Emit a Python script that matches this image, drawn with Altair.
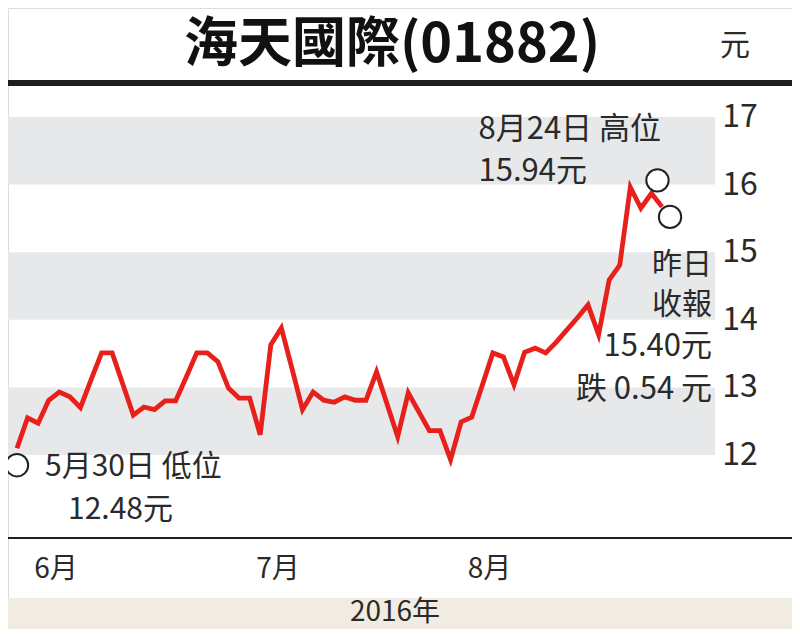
import altair as alt
import pandas as pd

# ---------------- data ----------------
holidays = ["2016-06-09", "2016-07-01"]
prices = [
    12.10, 12.55, 12.47, 12.81, 12.93, 12.86, 12.70, 13.11, 13.51, 13.51,
    13.05, 12.59, 12.71, 12.67, 12.80, 12.80, 13.15, 13.51, 13.51, 13.38,
    12.99, 12.84, 12.84, 12.30, 13.63, 13.88, 13.28, 12.67, 12.93, 12.81,
    12.78, 12.86, 12.81, 12.81, 13.23, 12.75, 12.27, 12.92, 12.64, 12.36,
    12.36, 11.93, 12.49, 12.56, 13.03, 13.51, 13.45, 13.04, 13.52, 13.58,
    13.51, 13.67, 13.85, 14.03, 14.22, 13.78, 14.59, 14.81, 15.96, 15.65,
    15.87, 15.67,
]
y_ticks = [12, 13, 14, 15, 16, 17]
bands = [(12, 13), (14, 15), (16, 17)]
month_names = {6: "6月", 7: "7月", 8: "8月"}
title_text = "海天國際(01882)"
unit_text = "元"
year_text = "2016年"

dates = [d for d in pd.bdate_range("2016-05-30", "2016-08-25")
         if d.strftime("%Y-%m-%d") not in holidays]
df = pd.DataFrame({"date": dates, "price": prices})
df["idx"] = range(len(df))

first = df.groupby(df["date"].dt.month)["idx"].min()
months_df = pd.DataFrame({"idx": [first[m] for m in month_names],
                          "label": list(month_names.values())})
ticks_df = pd.DataFrame({"v": y_ticks})
bands_df = pd.DataFrame({"lo": [b[0] for b in bands], "hi": [b[1] for b in bands]})

# ---------------- style ----------------
W, H = 784, 621
FONT = "Noto Sans CJK TC"
TXT = "#2a2a2a"
RED = "#e8201c"
BAND = "#e7e8ea"

xs = alt.Scale(domain=[-0.851, 73.29], nice=False, zero=False)
ys = alt.Scale(domain=[9.426, 18.612], nice=False, zero=False)
X = alt.X("idx:Q", scale=xs, axis=None)
Y = alt.Y("price:Q", scale=ys, axis=None)

band_layer = alt.Chart(bands_df).mark_rect(color=BAND).encode(
    x=alt.value(0), x2=alt.value(707),
    y=alt.Y("lo:Q", scale=ys, axis=None), y2="hi:Q")

tick_layer = alt.Chart(ticks_df).mark_text(
    font=FONT, fontSize=32, color=TXT, align="center", baseline="middle").encode(
    x=alt.value(732), y=alt.Y("v:Q", scale=ys, axis=None), text="v:Q")

line_layer = alt.Chart(df).mark_line(color=RED, strokeWidth=4.8).encode(x=X, y=Y)


def pt(i):
    return df.iloc[[i]][["idx", "price"]].reset_index(drop=True)


def circle(i, xo, yo):
    return alt.Chart(pt(i)).mark_point(
        shape="circle", size=500, fill="white", stroke="#222", strokeWidth=2,
        opacity=1, fillOpacity=1, xOffset=xo, yOffset=yo).encode(x=X, y=Y)


def note(i, text, dx, dy, align="left", size=30):
    d = pt(i)
    d["label"] = text
    return alt.Chart(d).mark_text(
        font=FONT, fontSize=size, color=TXT, align=align, baseline="middle",
        dx=dx, dy=dy).encode(x=X, y=Y, text="label:N")


last = len(df) - 1
hi_i = last - 1

notes = [
    note(0, "5月30日 低位", 28, 19, size=30),
    note(0, "12.48元", 51, 62, size=30),
    note(hi_i, "8月24日 高位", -173, -63, size=31),
    note(hi_i, "15.94元", -173, -21, size=31),
    note(last, "昨日", 50, 58, align="right", size=30),
    note(last, "收報", 50, 98, align="right", size=30),
    note(last, "15.40元", 50, 140, align="right", size=31),
    note(last, "跌 0.54 元", 50, 183, align="right", size=31),
]

circles = [circle(0, 0, 17), circle(hi_i, 6, -13), circle(last, 8, 10)]

month_layer = alt.Chart(months_df).mark_text(
    font=FONT, fontSize=28, color=TXT, align="left", baseline="middle", dx=-4).encode(
    x=X, y=alt.value(562), text="label:N")

top_rule = alt.Chart(pd.DataFrame({"a": [0]})).mark_rule(
    color="#1e1e1e", strokeWidth=6).encode(
    x=alt.value(0), x2=alt.value(W), y=alt.value(75))
bottom_rule = alt.Chart(pd.DataFrame({"a": [0]})).mark_rule(
    color="#1e1e1e", strokeWidth=2).encode(
    x=alt.value(0), x2=alt.value(W), y=alt.value(530))
footer = alt.Chart(pd.DataFrame({"a": [0]})).mark_rect(color="#f0ece1").encode(
    x=alt.value(0), x2=alt.value(W), y=alt.value(590), y2=alt.value(H))
footer_text = alt.Chart(pd.DataFrame({"t": [year_text]})).mark_text(
    font=FONT, fontSize=28, color=TXT, align="center", baseline="middle").encode(
    x=alt.value(387), y=alt.value(605), text="t:N")
title = alt.Chart(pd.DataFrame({"t": [title_text]})).mark_text(
    font=FONT, fontSize=54, fontWeight="bold", color="#111", align="center",
    baseline="middle").encode(x=alt.value(384), y=alt.value(38), text="t:N")
unit = alt.Chart(pd.DataFrame({"t": [unit_text]})).mark_text(
    font=FONT, fontSize=30, color=TXT, align="center", baseline="middle").encode(
    x=alt.value(727), y=alt.value(38), text="t:N")

chart = alt.layer(
    band_layer, footer, top_rule, bottom_rule, line_layer, *circles,
    tick_layer, month_layer, *notes, footer_text, title, unit,
).properties(
    width=W, height=H, padding=0,
    autosize=alt.AutoSizeParams(type="none"),
).configure_view(stroke=None).configure(background="white")

chart.save("out.html", embed_options={"renderer": "svg", "actions": False})
